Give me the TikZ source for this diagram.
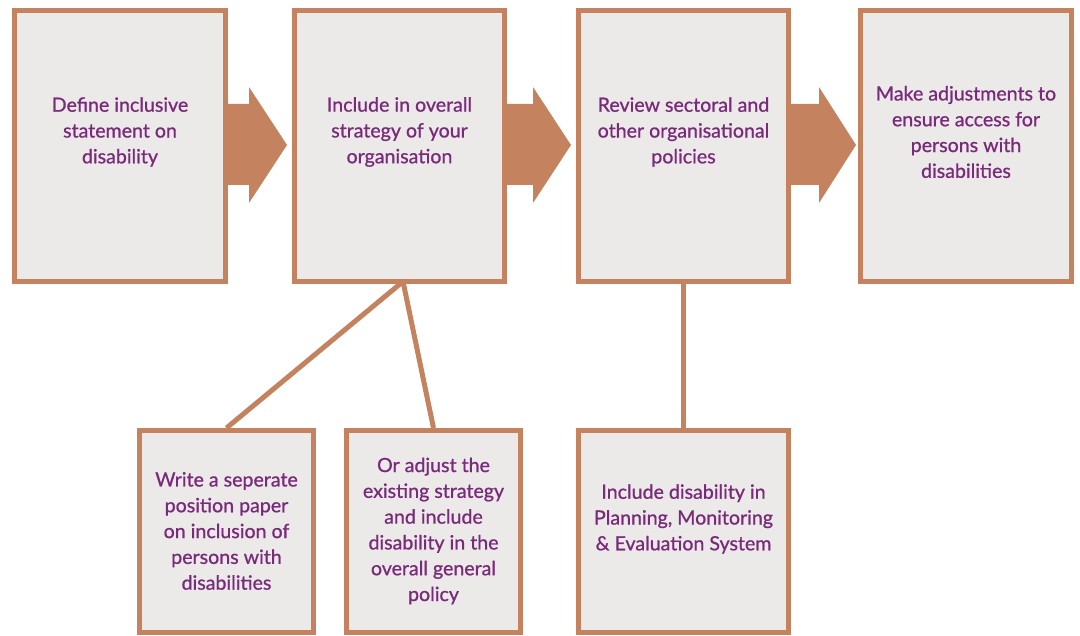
\documentclass[tikz,border=0pt]{standalone}
\usepackage{fontspec}
\setmainfont{Lato}
\newfontfamily\labelfont{Lato}[FakeBold=0.9]
\definecolor{brd}{HTML}{C4825F}
\definecolor{boxfill}{HTML}{ECEAE8}
\definecolor{txt}{HTML}{7A2A7B}
\begin{document}
\begin{tikzpicture}[x=1pt,y=-1pt,
  stepbox/.style={draw=brd,fill=boxfill,line width=5pt,rectangle,inner sep=0pt},
  topbox/.style={stepbox,minimum width=211pt,minimum height=271pt},
  lowbox/.style={stepbox,minimum width=174pt,minimum height=202pt},
  label/.style={text=txt,align=center,font=\labelfont\fontsize{19.6}{25.8}\selectfont,inner sep=0pt},
  link/.style={draw=brd,line width=5pt},
  bigarrow/.style={fill=brd}]
\useasboundingbox (0,0) rectangle (1080,636);
% top boxes
\node[topbox] (b1) at (120,146) {};
\node[topbox,minimum width=210pt] (b2) at (399.5,146) {};
\node[topbox,minimum width=210pt] (b3) at (683.5,146) {};
\node[topbox] (b4) at (966,146) {};
% bottom boxes
\node[lowbox] (b5) at (226.5,531.5) {};
\node[lowbox] (b6) at (433.5,531.5) {};
\node[lowbox,minimum width=210pt] (b7) at (683.5,531.5) {};
% texts
\node[label] (t1) at (120,132) {Define inclusive\\statement on\\disability};
\node[label] (t2) at (399.5,132) {Include in overall\\strategy of your\\organisation};
\node[label] (t3) at (683.5,132) {Review sectoral and\\other organisational\\policies};
\node[label] (t4) at (966,132) {Make adjustments to\\ensure access for\\persons with\\disabilities};
\node[label] (t5) at (226.5,531) {Write a seperate\\position paper\\on inclusion of\\persons with\\disabilities};
\node[label] (t6) at (433.5,531) {Or adjust the\\existing strategy\\and include\\disability in the\\overall general\\policy};
\node[label] (t7) at (683.5,519) {Include disability in\\Planning, Monitoring\\\& Evaluation System};
% block arrows
\fill[bigarrow] (228,104) -- (249,104) -- (249,87) -- (287,145) -- (249,203) -- (249,185) -- (228,185) -- cycle;
\fill[bigarrow] (507,104) -- (533,104) -- (533,87) -- (571,145) -- (533,203) -- (533,185) -- (507,185) -- cycle;
\fill[bigarrow] (791,104) -- (819,104) -- (819,87) -- (856,145) -- (819,203) -- (819,185) -- (791,185) -- cycle;
% connectors
\coordinate (j) at (403,281.5);
\draw[link] (j) -- (b5.north);
\draw[link] (j) -- (b6.north);
\draw[link] (b3.south) -- (b7.north);
\end{tikzpicture}
\end{document}
